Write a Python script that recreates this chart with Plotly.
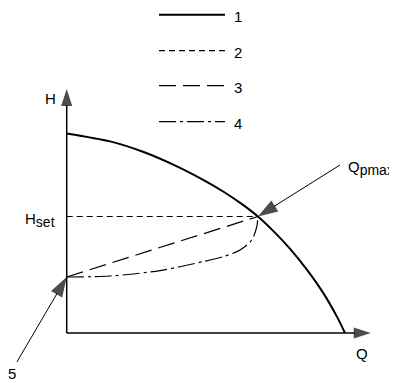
import plotly.graph_objects as go

# pump curve (1), Q in % of max flow, H in % of shut-off head
pump_q = [0, 15.6, 27.4, 39.6, 50.8, 56.5, 62.6, 68.7, 74.1, 80.2, 86.3, 92.1, 97.1, 100]
pump_h = [99.8, 95.8, 90.6, 83.3, 75.2, 70.5, 64.8, 58.25, 51.2, 42.2, 31.7, 20.2, 8.2, 0]

# constant pressure line (2)
h_set = 58.25
q_pmax = 68.7

# proportional pressure line (3)
prop_q = [0, 68.7]
prop_h = [28, 58.25]

# dash-dot curve (4)
quad_q = [0, 15.6, 33.5, 49, 56.3, 62.3, 66.5, 68.3, 68.7]
quad_h = [28, 28.5, 31.2, 35.7, 38.2, 41.5, 46.5, 53.2, 58.25]

legend_labels = ["1", "2", "3", "4"]
legend_dashes = ["solid", "6px,4px", "17px,7px", "17px,4px,3px,4px"]

FONT = "Liberation Sans, Arial, sans-serif"
SUB = "<sub><span style='font-size:14px'>{}</span></sub>"

fig = go.Figure()


def arrow(xs, ys, width, size):
    # straight line with a filled head at its last point
    fig.add_trace(go.Scatter(x=xs, y=ys, mode="lines+markers",
                             line=dict(color="black", width=width),
                             marker=dict(symbol=["circle", "arrow"], size=[0, size],
                                         angleref="previous", color="black",
                                         line=dict(width=0))))


# axes
arrow([0, 109.3], [0, 0], 1.5, 18)
arrow([0, 0], [0, 122], 1.5, 18)

# 1 - pump curve
fig.add_trace(go.Scatter(x=pump_q, y=pump_h, mode="lines",
                         line=dict(color="black", width=2, shape="spline", smoothing=0.8)))
# 2 - H set
fig.add_trace(go.Scatter(x=[0, q_pmax], y=[h_set, h_set], mode="lines",
                         line=dict(color="black", width=1.2, dash=legend_dashes[1])))
# 3 - proportional
fig.add_trace(go.Scatter(x=prop_q, y=prop_h, mode="lines",
                         line=dict(color="black", width=1.2, dash=legend_dashes[2])))
# 4 - dash-dot curve
fig.add_trace(go.Scatter(x=quad_q, y=quad_h, mode="lines",
                         line=dict(color="black", width=1.2, dash=legend_dashes[3],
                                   shape="spline", smoothing=0.8)))

# pointer arrows
arrow([98.2, q_pmax], [84, h_set], 1, 21)
arrow([-17.9, 0], [-14.5, prop_h[0]], 1, 21)

# legend samples (page has an 8px body margin -> figure is 389x375)
leg_y = [0.9821, 0.8861, 0.7928, 0.6968]
for lab, dsh, yy in zip(legend_labels, legend_dashes, leg_y):
    fig.add_shape(type="line", xref="paper", yref="paper", x0=0.3882, x1=0.5578,
                  y0=yy, y1=yy,
                  line=dict(color="black", width=2 if lab == "1" else 1.2, dash=dsh))
    fig.add_annotation(xref="paper", yref="paper", x=0.576, y=yy - 0.004, text=lab,
                       showarrow=False, xanchor="left", yanchor="middle",
                       font=dict(size=15))

fig.add_annotation(x=-3.0, y=117.5, text="H", showarrow=False, xanchor="right",
                   yanchor="middle", font=dict(size=15))
fig.add_annotation(x=-3.5, y=h_set - 1.5, text="H" + SUB.format("set"), showarrow=False,
                   xanchor="right", yanchor="middle", font=dict(size=15))
fig.add_annotation(x=100.5, y=82.5, text="Q" + SUB.format("pmax"), showarrow=False,
                   xanchor="left", yanchor="middle", font=dict(size=15))
fig.add_annotation(x=106.2, y=-10, text="Q", showarrow=False, xanchor="center",
                   yanchor="middle", font=dict(size=15))
fig.add_annotation(x=-19.7, y=-20, text="5", showarrow=False, xanchor="center",
                   yanchor="middle", font=dict(size=15))

fig.update_layout(
    width=389, height=375,
    margin=dict(l=0, r=0, t=0, b=0),
    paper_bgcolor="white", plot_bgcolor="white",
    showlegend=False,
    font=dict(family=FONT, color="black"),
    xaxis=dict(range=[-21.09, 118.68], visible=False, fixedrange=True),
    yaxis=dict(range=[-25, 162.5], visible=False, fixedrange=True),
)

fig.write_html("out.html")
